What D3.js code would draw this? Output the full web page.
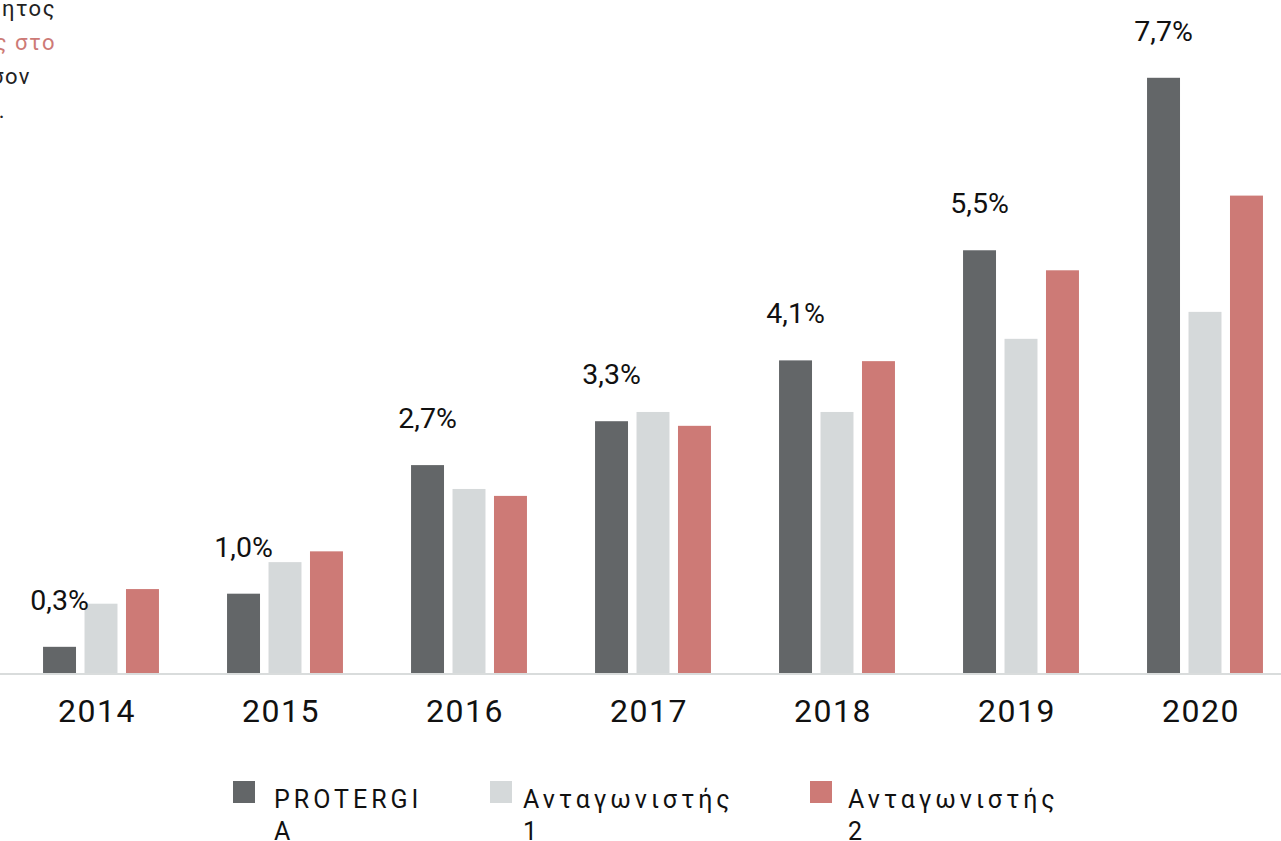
<!DOCTYPE html>
<html>
<head>
<meta charset="utf-8">
<script src="https://cdnjs.cloudflare.com/ajax/libs/d3/7.8.5/d3.min.js"></script>
<style>
  html, body { margin: 0; padding: 0; background: #fff; overflow: hidden; }
  svg { display: block; font-family: Roboto, "Noto Sans", sans-serif; }
</style>
</head>
<body>
<svg id="chart" width="1281" height="841"></svg>
<script>
// ---------- Data ----------
const years = ['2014', '2015', '2016', '2017', '2018', '2019', '2020'];
const seriesNames = ['PROTERGIA', 'Ανταγωνιστής 1', 'Ανταγωνιστής 2'];
const protergia = [0.34, 1.03, 2.70, 3.27, 4.06, 5.49, 7.73];
const competitor1 = [0.90, 1.44, 2.39, 3.39, 3.39, 4.34, 4.69];
const competitor2 = [1.09, 1.58, 2.30, 3.21, 4.05, 5.23, 6.20];
const legendLines = [['PROTERGI', 'A'], ['Ανταγωνιστής', '1'], ['Ανταγωνιστής', '2']];
// clipped annotation text at top-left
const noteLines = [
  { text: 'ητος', color: '#222' },
  { text: 'ς στο', color: '#cd7a76' },
  { text: 'σον', color: '#222' },
  { text: '.', color: '#222' }
];

const colors = ['#636668', '#d5d9da', '#cd7a76'];
const seriesValues = [protergia, competitor1, competitor2];

const svg = d3.select('#chart');

// ---------- Scales ----------
const baseline = 673;
const x0 = d3.scaleBand().domain(years).range([9, 1297]).paddingInner(0.37).paddingOuter(0.185);
const x1 = d3.scaleBand().domain(seriesNames).range([0, x0.bandwidth()]).paddingInner(0.205);
const y = d3.scaleLinear().domain([0, 8]).range([baseline, baseline - 8 * 77]);

// ---------- Bars ----------
const groups = svg.append('g').selectAll('g')
  .data(years)
  .join('g')
  .attr('transform', d => `translate(${x0(d)},0)`);

groups.selectAll('rect')
  .data((d, i) => seriesNames.map((s, j) => ({ s, v: seriesValues[j][i], j })))
  .join('rect')
  .attr('x', d => x1(d.s))
  .attr('width', x1.bandwidth())
  .attr('y', d => y(d.v))
  .attr('height', d => y(0) - y(d.v))
  .attr('fill', d => colors[d.j]);

// ---------- Value labels (PROTERGIA) ----------
const fmt = v => v.toFixed(1).replace('.', ',') + '%';
svg.append('g').selectAll('text')
  .data(years)
  .join('text')
  .attr('x', (d, i) => x0(d) + x1(seriesNames[0]) + x1.bandwidth() / 2)
  .attr('y', (d, i) => y(protergia[i]) - 37)
  .attr('text-anchor', 'middle')
  .attr('font-size', 28.5)
  .attr('fill', '#111')
  .text((d, i) => fmt(protergia[i]));

// ---------- Axis ----------
svg.append('line')
  .attr('x1', 0).attr('x2', 1281)
  .attr('y1', baseline + 1).attr('y2', baseline + 1)
  .attr('stroke', '#d9dcdc')
  .attr('stroke-width', 2);

const xAxis = d3.axisBottom(x0).tickSize(0).tickPadding(0);
const axisG = svg.append('g')
  .attr('transform', `translate(-4,${baseline})`)
  .call(xAxis);
axisG.select('.domain').remove();
axisG.selectAll('text')
  .attr('y', 49)
  .attr('dy', 0)
  .attr('font-size', 32)
  .attr('letter-spacing', 1.5)
  .attr('font-family', 'Roboto, sans-serif')
  .attr('fill', '#111');

// ---------- Legend ----------
const legendX = [233, 490, 810];
const legend = svg.append('g').selectAll('g')
  .data(seriesNames)
  .join('g')
  .attr('transform', (d, i) => `translate(${legendX[i]},781)`);

legend.append('rect')
  .attr('width', 22).attr('height', 22)
  .attr('fill', (d, i) => colors[i]);

legend.append('text')
  .attr('x', (d, i) => [41, 33, 38][i])
  .attr('y', 27)
  .attr('font-size', 25)
  .attr('letter-spacing', 4)
  .attr('fill', '#111')
  .selectAll('tspan')
  .data((d, i) => legendLines[i])
  .join('tspan')
  .attr('x', function () { return d3.select(this.parentNode).attr('x'); })
  .attr('dy', (d, i) => i === 0 ? 0 : 32)
  .text(d => d);

// ---------- Clipped note ----------
const noteEnds = [56, 56, 31, 6];
svg.append('g').selectAll('text')
  .data(noteLines)
  .join('text')
  .attr('x', (d, i) => noteEnds[i])
  .attr('y', (d, i) => 16 + i * 34)
  .attr('text-anchor', 'end')
  .attr('font-size', 22)
  .attr('letter-spacing', 1.5)
  .attr('fill', d => d.color)
  .text(d => d.text);
</script>
</body>
</html>
